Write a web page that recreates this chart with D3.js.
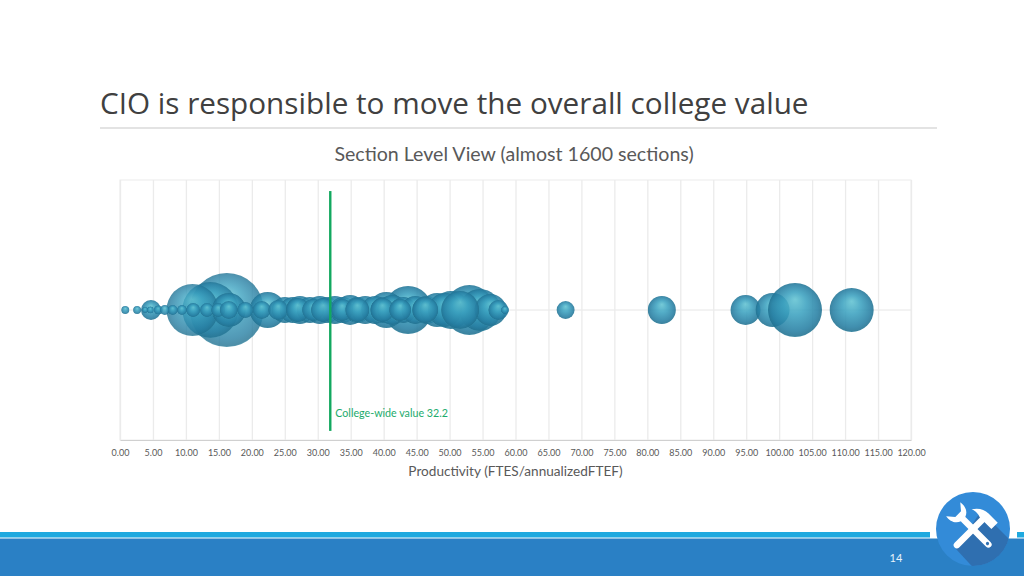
<!DOCTYPE html>
<html>
<head>
<meta charset="utf-8">
<script src="https://cdnjs.cloudflare.com/ajax/libs/d3/7.8.5/d3.min.js"></script>
<style>
html, body { margin: 0; padding: 0; background: #fff; }
svg { display: block; }
</style>
</head>
<body>
<script>
// values
var xTicks = [0,5,10,15,20,25,30,35,40,45,50,55,60,65,70,75,80,85,90,95,100,105,110,115,120];
var sectionX = [16.2,13.7,11,22.4,43.7,53,50.2,54.6,56.2,40.4,
    25,26.2,27.3,28.8,30.3,31.4,32.6,33.8,34.9,36,37.2,38.7,40,41.3,43,44.8,46.5,48.1,49.3,
    16.5,0.8,2.6,4.7,3.8,4.6,5.8,6.8,8,9.4,11.1,13.2,14.9,16.5,19,21.5,24,27,29.3,
    30.8,33.7,36,39.8,42.5,46.3,57.4,58.4,51.6,
    67.6,82.2,94.9,99,102.4,111];
var sectionSize = [1369,784,676,324,576,625,361,441,256,324,
    169,169,196,169,196,169,196,169,225,169,196,196,169,225,169,196,196,289,289,
    289,16,16,100,9,12,20,25,25,25,49,49,49,81,64,81,100,144,121,
    144,121,144,144,121,169,100,16,361,
    81,196,225,289,729,484];
var collegeValue = 31.9;
var collegeBottom = 0.07, collegeTop = 1.915;

var svg = d3.select("body").append("svg").attr("width", 1024).attr("height", 576);
var defs = svg.append("defs");

var grad = defs.append("radialGradient").attr("id", "ball")
    .attr("cx", "50%").attr("cy", "50%").attr("r", "52%").attr("fx", "50%").attr("fy", "30%");
[[0, "#62c3d2"], [0.4, "#3ca2c0"], [0.82, "#267fa3"], [0.95, "#217292"], [1, "#459db3"]].forEach(function(s){
    grad.append("stop").attr("offset", s[0]).attr("stop-color", s[1]);
});

var x = d3.scaleLinear().domain([0, 120]).range([120, 911]);
var y = d3.scaleLinear().domain([0, 2]).range([440, 180]);
var r = d3.scaleSqrt().domain([0, 1369]).range([0, 37]);

// title
svg.append("text").attr("x", 100).attr("y", 114)
    .style("font-family", "'Open Sans'").style("font-size", "29.7px").style("fill", "#404040")
    .text("CIO is responsible to move the overall college value");
svg.append("line").attr("x1", 100).attr("x2", 937).attr("y1", 128).attr("y2", 128)
    .style("stroke", "#c8c8c8").style("stroke-width", 1.2);

svg.append("text").attr("x", 514).attr("y", 161).attr("text-anchor", "middle")
    .style("font-family", "Lato").style("font-size", "19.6px").style("fill", "#595959")
    .text("Section Level View (almost 1600 sections)");

// plot frame and grid
svg.append("rect").attr("x", 120).attr("y", 180).attr("width", 791).attr("height", 260)
    .style("fill", "none").style("stroke", "#ececec");
svg.append("line").attr("x1", x(0)).attr("x2", x(120)).attr("y1", y(1)).attr("y2", y(1))
    .style("stroke", "#e6e6e6");

var axis = d3.axisBottom(x).tickValues(xTicks).tickFormat(d3.format(".2f"))
    .tickSizeInner(-260).tickSizeOuter(0).tickPadding(10);
var gAxis = svg.append("g").attr("transform", "translate(0,440)").call(axis);
gAxis.selectAll(".tick line").style("stroke", "#ebebeb").style("stroke-width", 1.3);
gAxis.select(".domain").style("stroke", "#d0d0d0").style("stroke-width", 1.2);
gAxis.selectAll("text").style("font-family", "Lato").style("font-size", "9px").style("fill", "#595959");

// bubbles, the big ones on the left are a bit more see-through
svg.append("g").selectAll("circle").data(sectionX).enter().append("circle")
    .attr("cx", function(d){ return x(d); })
    .attr("cy", y(1))
    .attr("r", function(d, i){ return r(sectionSize[i]); })
    .style("fill", "url(#ball)")
    .style("fill-opacity", function(d, i){ return (sectionSize[i] > 500 && d < 20) ? 0.8 : 0.88; });

// college-wide line
svg.append("line").attr("x1", x(collegeValue)).attr("x2", x(collegeValue))
    .attr("y1", y(collegeBottom)).attr("y2", y(collegeTop))
    .style("stroke", "#12a85f").style("stroke-width", 2.4);
svg.append("text").attr("x", x(collegeValue) + 5).attr("y", 417)
    .style("font-family", "Lato").style("font-size", "10.7px").style("fill", "#1cab6c")
    .text("College-wide value 32.2");

svg.append("text").attr("x", 515.5).attr("y", 476).attr("text-anchor", "middle")
    .style("font-family", "Lato").style("font-size", "13.6px").style("fill", "#595959")
    .text("Productivity (FTES/annualizedFTEF)");

// footer
svg.append("rect").attr("x", 0).attr("y", 532).attr("width", 930).attr("height", 5.5).style("fill", "#1fa9df");
svg.append("rect").attr("x", 1017).attr("y", 532).attr("width", 7).attr("height", 5.5).style("fill", "#1fa9df");
svg.append("rect").attr("x", 0).attr("y", 538.5).attr("width", 1024).attr("height", 37.5).style("fill", "#2a80c5");
svg.append("text").attr("x", 896).attr("y", 562).attr("text-anchor", "middle")
    .style("font-family", "Lato").style("font-size", "11px").style("fill", "#e8f2fa").text("14");

// tools badge
defs.append("clipPath").attr("id", "badge").append("circle").attr("r", 37);
var badge = svg.append("g").attr("transform", "translate(973,529)");
badge.append("circle").attr("r", 37).style("fill", "#338bd8");
badge.append("path").attr("clip-path", "url(#badge)")
    .attr("d", "M8,-18 L60,34 L20,60 L-17,20 Z")
    .style("fill", "#2f6fb0");
// hammer
var hammer = badge.append("g").attr("transform", "rotate(-45)");
hammer.append("rect").attr("x", -26).attr("y", -3.2).attr("width", 42).attr("height", 6.4).attr("rx", 3.2).style("fill", "#fff");
hammer.append("path").attr("d", "M13,13 L22,13 L22,0 C22,-6 19,-11 13,-15 C15,-10 14,-6 13,-3 Z").style("fill", "#fff");
// wrench
var wrench = badge.append("g").attr("transform", "rotate(45)");
wrench.append("rect").attr("x", -16).attr("y", -3.2).attr("width", 41).attr("height", 6.4).attr("rx", 3.2).style("fill", "#fff");
wrench.append("path").attr("d", "M-14,-3 C-16,-9 -22,-11 -28,-10 L-21,-4 L-21,4 L-28,10 C-22,11 -16,9 -14,3 Z").style("fill", "#fff");
wrench.append("circle").attr("cx", 20.5).attr("cy", 0).attr("r", 1.6).style("fill", "#2f6fb0");
</script>
</body>
</html>
